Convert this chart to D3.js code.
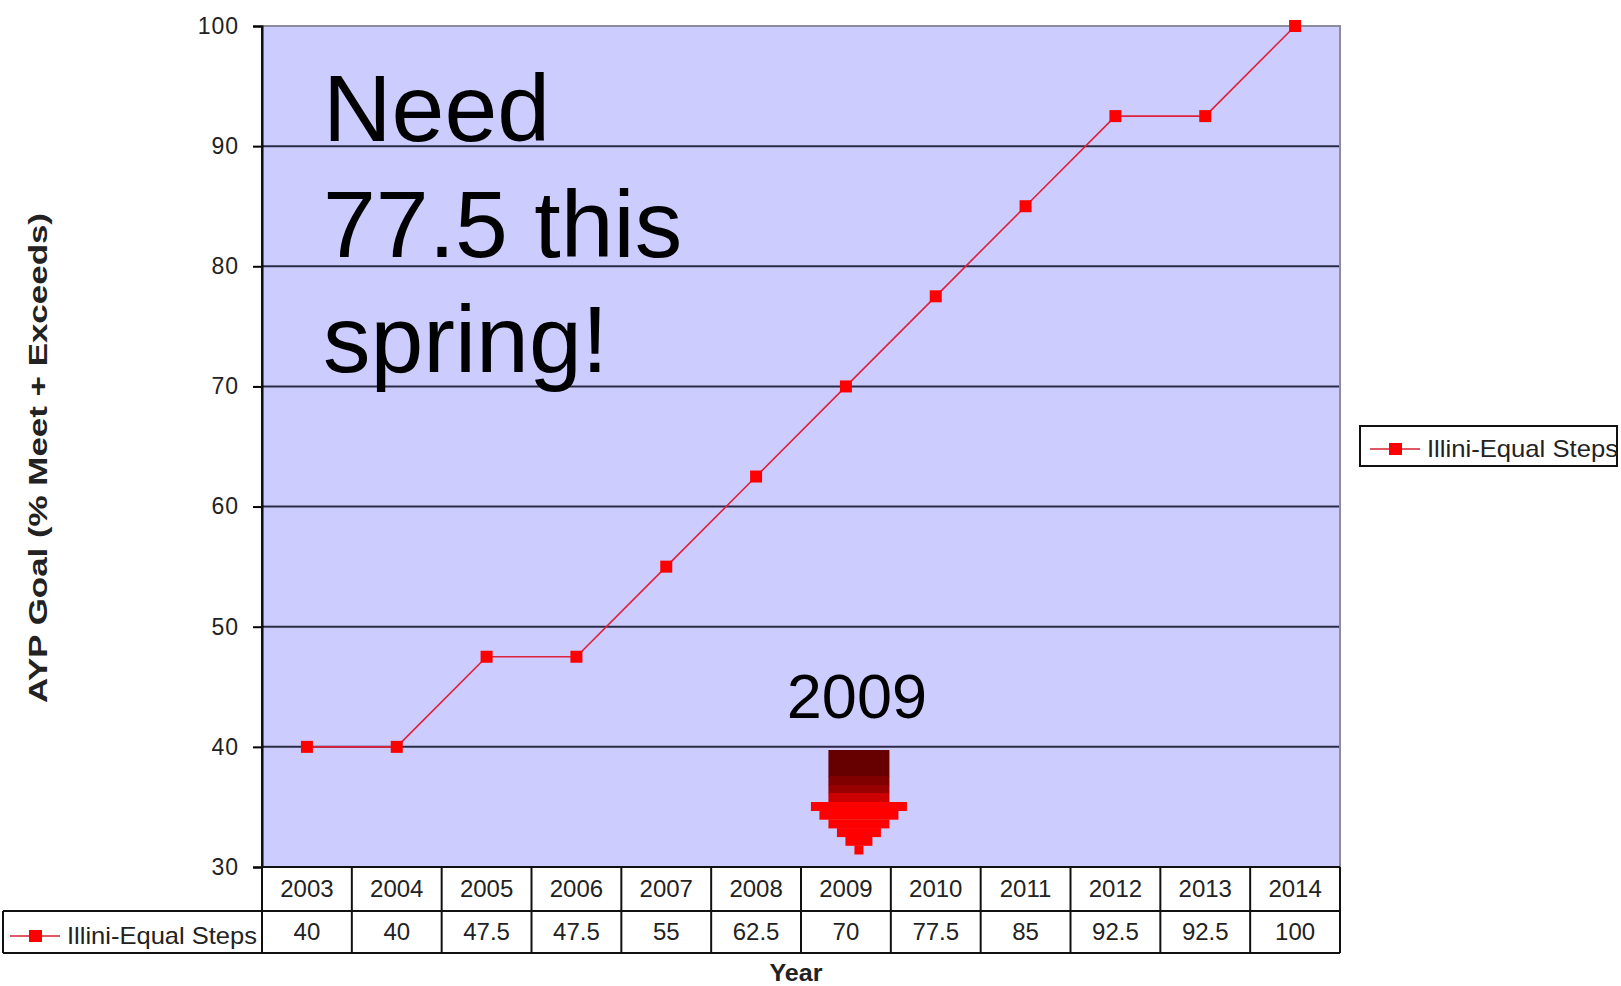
<!DOCTYPE html>
<html>
<head>
<meta charset="utf-8">
<script src="https://cdn.jsdelivr.net/npm/d3@7"></script>
<style>
  body { margin: 0; background: #fff; }
  svg { display: block; }
  text { font-family: "Liberation Sans", Arial, sans-serif; }
</style>
</head>
<body>
<div id="chart"></div>
<script>
// data
const years = [2003, 2004, 2005, 2006, 2007, 2008, 2009, 2010, 2011, 2012, 2013, 2014]
const goals = [40, 40, 47.5, 47.5, 55, 62.5, 70, 77.5, 85, 92.5, 92.5, 100]
const yTicks = [30, 40, 50, 60, 70, 80, 90, 100]
const seriesName = "Illini-Equal Steps"
const noteLines = ["Need", "77.5 this", "spring!"]
const highlightYear = 2009

const width = 1621, height = 986
const plot = { left: 262, right: 1340, top: 26, bottom: 867 }

const svg = d3.select('#chart').append('svg')
  .attr('width', width)
  .attr('height', height)

const x = d3.scaleBand()
  .domain(years)
  .range([plot.left, plot.right])
  .padding(0)

const y = d3.scaleLinear()
  .domain([30, 100])
  .range([plot.bottom, plot.top])

// plot area
svg.append('rect')
  .attr('x', plot.left).attr('y', plot.top)
  .attr('width', plot.right - plot.left).attr('height', plot.bottom - plot.top)
  .attr('fill', '#ccccff')

// gridlines
svg.append('g').selectAll('line')
  .data(yTicks.filter(d => d > 30 && d < 100))
  .enter().append('line')
    .attr('x1', plot.left).attr('x2', plot.right)
    .attr('y1', d => y(d)).attr('y2', d => y(d))
    .attr('stroke', '#2b2b45')
    .attr('stroke-width', 2)

// top + right border (grey)
svg.append('path')
  .attr('d', `M${plot.left},${y(100)}H${plot.right}V${plot.bottom}`)
  .attr('fill', 'none')
  .attr('stroke', '#8c8c9c')
  .attr('stroke-width', 2)

// y axis
const yAxis = d3.axisLeft(y).tickValues(yTicks).tickSize(9).tickPadding(14)
const gy = svg.append('g')
  .attr('transform', `translate(${plot.left},0)`)
  .call(yAxis)
gy.select('.domain').attr('stroke', '#000').attr('stroke-width', 2)
gy.selectAll('.tick line').attr('stroke', '#000').attr('stroke-width', 2)
gy.selectAll('.tick text')
  .attr('font-size', 23)
  .attr('fill', '#222')
  .attr('letter-spacing', 1)
  .style('font-family', '"Liberation Sans", Arial, sans-serif')

// y axis title
svg.append('text')
  .attr('transform', 'translate(47,458) rotate(-90)')
  .attr('text-anchor', 'middle')
  .attr('font-size', 26)
  .attr('font-weight', 'bold')
  .attr('fill', '#222')
  .attr('textLength', 490)
  .attr('lengthAdjust', 'spacingAndGlyphs')
  .text('AYP Goal (% Meet + Exceeds)')

// big note
svg.append('g').selectAll('text')
  .data(noteLines)
  .enter().append('text')
    .attr('x', 323)
    .attr('y', (d, i) => 141 + i * 115.5)
    .attr('font-size', 95)
    .attr('fill', '#000')
    .text(d => d)

// series line
const cx = d => x(d) + x.bandwidth() / 2
const line = d3.line()
  .x((d, i) => cx(years[i]))
  .y(d => y(d))

svg.append('path')
  .datum(goals)
  .attr('d', line)
  .attr('fill', 'none')
  .attr('stroke', '#e0203a')
  .attr('stroke-width', 1.6)

svg.append('g').selectAll('rect')
  .data(goals)
  .enter().append('rect')
    .attr('x', (d, i) => cx(years[i]) - 6)
    .attr('y', d => y(d) - 6)
    .attr('width', 12).attr('height', 12)
    .attr('fill', '#ff0000')

// highlight label + arrow
const hx = cx(highlightYear) + 13
svg.append('text')
  .attr('x', hx - 2)
  .attr('y', 718)
  .attr('text-anchor', 'middle')
  .attr('font-size', 63)
  .attr('fill', '#000')
  .text(highlightYear)

const shaftBands = [
  { h: 26, c: '#660000' },
  { h: 9, c: '#800000' },
  { h: 8, c: '#990000' },
  { h: 9, c: '#cc0000' }
]
const headSteps = [48, 39.5, 30.5, 22, 13.5, 4.5]
const arrow = svg.append('g')
let ay = 750
shaftBands.forEach(b => {
  arrow.append('rect')
    .attr('x', hx - 30.5).attr('y', ay)
    .attr('width', 61).attr('height', b.h + 0.5)
    .attr('fill', b.c)
  ay += b.h
})
headSteps.forEach(hw => {
  arrow.append('rect')
    .attr('x', hx - hw).attr('y', ay)
    .attr('width', hw * 2).attr('height', 9)
    .attr('fill', '#ff0000')
  ay += 8.7
})

// data table
const row1 = 911, row2 = 953
const table = svg.append('g')

table.append('rect')
  .attr('x', plot.left).attr('y', plot.bottom)
  .attr('width', plot.right - plot.left).attr('height', row2 - plot.bottom)
  .attr('fill', '#fff')

table.append('g').selectAll('text')
  .data(years)
  .enter().append('text')
    .attr('x', d => cx(d))
    .attr('y', (plot.bottom + row1) / 2)
    .attr('dy', '0.35em')
    .attr('text-anchor', 'middle')
    .attr('font-size', 24)
    .attr('fill', '#222')
    .text(d => d)

table.append('g').selectAll('text')
  .data(goals)
  .enter().append('text')
    .attr('x', (d, i) => cx(years[i]))
    .attr('y', (row1 + row2) / 2)
    .attr('dy', '0.35em')
    .attr('text-anchor', 'middle')
    .attr('font-size', 24)
    .attr('fill', '#222')
    .text(d => d)

// table grid
const lines = table.append('g')
  .attr('stroke', '#111')
  .attr('stroke-width', 2)
lines.append('line').attr('x1', plot.left).attr('x2', plot.right).attr('y1', plot.bottom).attr('y2', plot.bottom)
lines.append('line').attr('x1', 3).attr('x2', plot.right).attr('y1', row1).attr('y2', row1)
lines.append('line').attr('x1', 3).attr('x2', plot.right).attr('y1', row2).attr('y2', row2)
lines.append('line').attr('x1', 3).attr('x2', 3).attr('y1', row1).attr('y2', row2)
lines.append('line').attr('x1', plot.left).attr('x2', plot.left).attr('y1', plot.top).attr('y2', row2)
lines.selectAll('.col')
  .data(years)
  .enter().append('line')
    .attr('class', 'col')
    .attr('x1', d => x(d) + x.bandwidth()).attr('x2', d => x(d) + x.bandwidth())
    .attr('y1', plot.bottom).attr('y2', row2)

// legend key inside table
function legendKey(g, x0, yc) {
  g.append('line')
    .attr('x1', x0).attr('x2', x0 + 50)
    .attr('y1', yc).attr('y2', yc)
    .attr('stroke', '#d42030').attr('stroke-width', 1.6)
  g.append('rect')
    .attr('x', x0 + 19).attr('y', yc - 6)
    .attr('width', 13).attr('height', 12)
    .attr('fill', '#ff0000')
}
const tl = svg.append('g')
legendKey(tl, 10, (row1 + row2) / 2 + 4)
tl.append('text')
  .attr('x', 67).attr('y', (row1 + row2) / 2 + 4)
  .attr('dy', '0.35em')
  .attr('font-size', 24)
  .attr('fill', '#222')
  .attr('textLength', 190)
  .attr('lengthAdjust', 'spacingAndGlyphs')
  .text(seriesName)

// x axis title
svg.append('text')
  .attr('x', 796).attr('y', 981)
  .attr('text-anchor', 'middle')
  .attr('font-size', 24)
  .attr('font-weight', 'bold')
  .attr('fill', '#222')
  .attr('textLength', 53)
  .attr('lengthAdjust', 'spacingAndGlyphs')
  .text('Year')

// right legend
svg.append('defs').append('clipPath').attr('id', 'legclip')
  .append('rect').attr('x', 1360).attr('y', 420).attr('width', 258).attr('height', 50)
const lg = svg.append('g')
lg.append('rect')
  .attr('x', 1360).attr('y', 426)
  .attr('width', 257).attr('height', 40)
  .attr('fill', '#fff')
  .attr('stroke', '#111')
  .attr('stroke-width', 2)
legendKey(lg, 1370, 449)
lg.append('text')
  .attr('clip-path', 'url(#legclip)')
  .attr('x', 1427).attr('y', 449)
  .attr('dy', '0.35em')
  .attr('font-size', 24)
  .attr('fill', '#222')
  .attr('textLength', 191)
  .attr('lengthAdjust', 'spacingAndGlyphs')
  .text(seriesName)
</script>
</body>
</html>
